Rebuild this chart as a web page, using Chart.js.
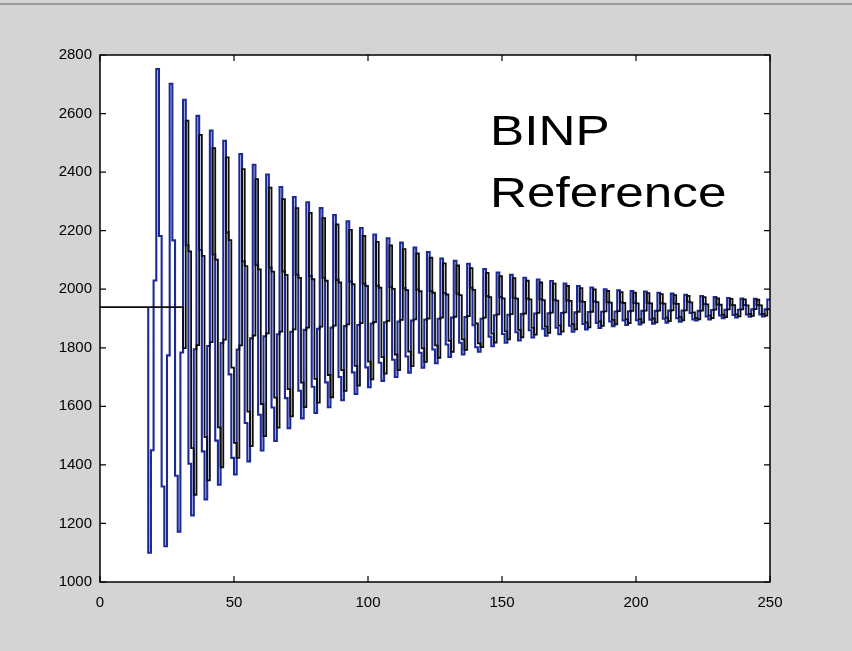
<!DOCTYPE html>
<html>
<head>
<meta charset="utf-8">
<script src="https://cdn.jsdelivr.net/npm/chart.js@4.4.1/dist/chart.umd.min.js"></script>
<style>
  html, body { margin: 0; padding: 0; background: #d4d4d4; }
  canvas { display: block; }
</style>
</head>
<body>
<canvas id="c" width="852" height="651"></canvas>
<script>
// axis ranges / ticks
const xTicks = [0, 50, 100, 150, 200, 250]
const yTicks = [1000, 1200, 1400, 1600, 1800, 2000, 2200, 2400, 2600, 2800]

// black trace: flat level before the kick, then the damped ringing (one sample per unit, from x = 31)
const blackLevel = 1939
const blackStart = 31
const blackValues = [
  1939, 1799, 2576, 2129, 1457, 1298, 1809,
  2527, 2114, 1495, 1347, 1819,
  2482, 2101, 1528, 1392, 1828,
  2450, 2168, 1732, 1475, 1424, 1808,
  2410, 2079, 1582, 1464, 1842,
  2376, 2068, 1608, 1498, 1849,
  2347, 2060, 1630, 1527, 1855,
  2308, 2049, 1659, 1566, 1863,
  2277, 2039, 1681, 1597, 1869,
  2261, 2034, 1694, 1613, 1872,
  2243, 2029, 1707, 1631, 1876,
  2221, 2023, 1724, 1653, 1880,
  2203, 2017, 1738, 1671, 1884,
  2182, 2011, 1753, 1692, 1888,
  2162, 2005, 1768, 1712, 1892,
  2150, 2001, 1777, 1724, 1895,
  2137, 1997, 1787, 1737, 1897,
  2122, 1993, 1798, 1752, 1900,
  2108, 1988, 1808, 1766, 1903,
  2088, 1982, 1824, 1786, 1906,
  2081, 1980, 1829, 1793, 1908,
  2072, 1998, 1883, 1815, 1802, 1903,
  2056, 1973, 1848, 1818, 1914,
  2045, 1969, 1856, 1829, 1915,
  2038, 1968, 1861, 1836, 1917,
  2029, 1965, 1868, 1845, 1919,
  2023, 1963, 1872, 1851, 1920,
  2019, 1961, 1876, 1855, 1921,
  2011, 1960, 1881, 1863, 1923,
  2004, 1957, 1887, 1870, 1923,
  1999, 1956, 1890, 1875, 1924,
  1994, 1954, 1895, 1880, 1925,
  1990, 1953, 1897, 1884, 1926,
  1988, 1952, 1898, 1886, 1927,
  1987, 1952, 1900, 1887, 1927,
  1983, 1951, 1903, 1891, 1928,
  1980, 1950, 1905, 1894, 1928,
  1977, 1955, 1921, 1901, 1897, 1927,
  1973, 1948, 1910, 1901, 1930,
  1969, 1947, 1913, 1905, 1931,
  1967, 1946, 1914, 1907, 1931,
  1965, 1945, 1916, 1909, 1932,
  1964, 1945, 1916, 1910, 1932
]

// blue trace (one sample per unit, from x = 18)
const blueStart = 18
const blueValues = [
  1937, 1100, 1450, 2030,
  2752, 2182, 1326, 1122, 1774,
  2702, 2167, 1363, 1172, 1784,
  2647, 2150, 1404, 1227, 1795,
  2592, 2134, 1446, 1282, 1806,
  2542, 2119, 1483, 1332, 1816,
  2507, 2194, 1709, 1424, 1367, 1794,
  2462, 2095, 1543, 1412, 1832,
  2425, 2083, 1571, 1449, 1839,
  2392, 2074, 1596, 1482, 1846,
  2349, 2061, 1628, 1525, 1855,
  2315, 2050, 1653, 1559, 1861,
  2297, 2045, 1667, 1577, 1865,
  2277, 2039, 1682, 1597, 1869,
  2253, 2032, 1700, 1621, 1874,
  2232, 2026, 1716, 1642, 1878,
  2209, 2019, 1733, 1665, 1883,
  2187, 2012, 1749, 1687, 1887,
  2174, 2008, 1759, 1700, 1890,
  2159, 2004, 1770, 1715, 1893,
  2142, 1999, 1783, 1732, 1896,
  2127, 1994, 1794, 1747, 1899,
  2105, 1987, 1811, 1769, 1903,
  2097, 1985, 1817, 1777, 1905,
  2087, 2005, 1877, 1802, 1787, 1899,
  2069, 1977, 1838, 1805, 1911,
  2057, 1973, 1847, 1817, 1913,
  2049, 1971, 1853, 1825, 1915,
  2039, 1968, 1860, 1835, 1917,
  2033, 1966, 1865, 1841, 1918,
  2028, 1964, 1869, 1846, 1919,
  2019, 1962, 1875, 1855, 1921,
  2011, 1959, 1881, 1863, 1922,
  2006, 1958, 1885, 1868, 1923,
  2000, 1956, 1890, 1874, 1924,
  1996, 1955, 1893, 1878, 1925,
  1994, 1954, 1894, 1880, 1926,
  1992, 1954, 1896, 1882, 1926,
  1988, 1952, 1899, 1886, 1927,
  1985, 1951, 1901, 1889, 1927,
  1981, 1957, 1919, 1897, 1893, 1926,
  1977, 1949, 1907, 1897, 1929,
  1973, 1948, 1910, 1901, 1930,
  1970, 1947, 1912, 1904, 1930,
  1968, 1946, 1914, 1906, 1931,
  1967, 1946, 1914, 1907, 1931,
  1965
]

const labelLines = ['BINP', 'Reference']
const font = '"Liberation Sans", Arial, sans-serif'

const blackPts = [{x: 0, y: blackLevel}].concat(blackValues.map((v, i) => ({x: blackStart + i, y: v})))
const bluePts = blueValues.map((v, i) => ({x: blueStart + i, y: v}))

// matlab style frame: grey figure, white axes box, inward ticks on all 4 sides
const frame = {
  id: 'frame',
  beforeDraw(chart) {
    const {ctx, chartArea: a} = chart
    ctx.save()
    ctx.fillStyle = '#d4d4d4'
    ctx.fillRect(0, 0, chart.width, chart.height)
    ctx.fillStyle = '#9a9a9a'
    ctx.fillRect(0, 3, chart.width, 2)
    ctx.fillStyle = '#fff'
    ctx.fillRect(a.left, a.top, a.right - a.left, a.bottom - a.top)
    ctx.restore()
  },
  afterDraw(chart) {
    const {ctx, chartArea: a, scales} = chart
    ctx.save()
    ctx.strokeStyle = '#000'
    ctx.lineWidth = 1.5
    ctx.strokeRect(a.left, a.top, a.right - a.left, a.bottom - a.top)
    ctx.lineWidth = 1.2
    ctx.beginPath()
    xTicks.forEach(v => {
      const px = scales.x.getPixelForValue(v)
      ctx.moveTo(px, a.bottom); ctx.lineTo(px, a.bottom - 6)
      ctx.moveTo(px, a.top); ctx.lineTo(px, a.top + 6)
    })
    yTicks.forEach(v => {
      const py = scales.y.getPixelForValue(v)
      ctx.moveTo(a.left, py); ctx.lineTo(a.left + 6, py)
      ctx.moveTo(a.right, py); ctx.lineTo(a.right - 6, py)
    })
    ctx.stroke()
    // big annotation text, slightly stretched like the original figure
    ctx.fillStyle = '#000'
    ctx.font = '42px ' + font
    ctx.textBaseline = 'alphabetic'
    ctx.translate(490, 0)
    ctx.scale(1.22, 1)
    ctx.fillText(labelLines[0], 0, 145)
    ctx.fillText(labelLines[1], 0, 207)
    ctx.restore()
  }
}

const tickFont = {family: font, size: 15}

new Chart(document.getElementById('c').getContext('2d'), {
  type: 'line',
  data: {
    datasets: [
      {data: blackPts, borderColor: '#0d0d0d', borderWidth: 1.8, stepped: 'after', pointRadius: 0, fill: false, order: 0},
      {data: bluePts, borderColor: '#1c2a96', borderWidth: 2.1, stepped: 'after', pointRadius: 0, fill: false, order: 1}
    ]
  },
  options: {
    responsive: false,
    animation: false,
    layout: {padding: {top: 55, right: 82, left: 0, bottom: 0}},
    plugins: {legend: {display: false}, tooltip: {enabled: false}},
    scales: {
      x: {
        type: 'linear', min: 0, max: 250,
        afterBuildTicks: s => { s.ticks = xTicks.map(v => ({value: v})) },
        ticks: {color: '#000', font: tickFont, padding: 12, maxRotation: 0, callback: v => String(v)},
        grid: {display: false, drawTicks: false},
        border: {display: false},
        afterFit: s => { s.height = 69 }
      },
      y: {
        type: 'linear', min: 1000, max: 2800,
        afterBuildTicks: s => { s.ticks = yTicks.map(v => ({value: v})) },
        ticks: {color: '#000', font: tickFont, padding: 8, callback: v => String(v)},
        grid: {display: false, drawTicks: false},
        border: {display: false},
        afterFit: s => { s.width = 100 }
      }
    }
  },
  plugins: [frame]
})
</script>
</body>
</html>
